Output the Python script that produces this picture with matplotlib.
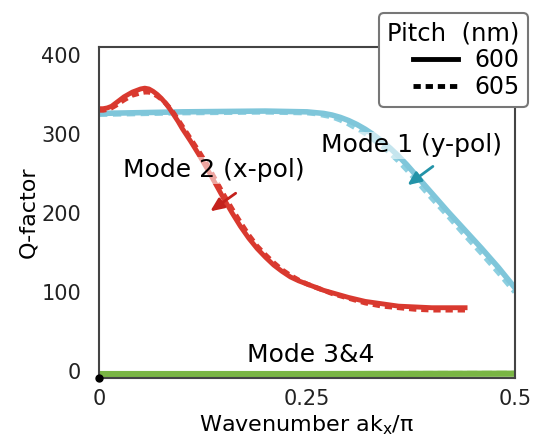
import matplotlib.pyplot as plt
from matplotlib.lines import Line2D

# Mode 1 (y-pol), azul
x_m1 = [0, 0.1, 0.2, 0.25, 0.26, 0.27, 0.28, 0.29, 0.30, 0.31, 0.32, 0.33, 0.34, 0.35,
        0.36, 0.37, 0.38, 0.39, 0.40, 0.42, 0.44, 0.46, 0.48, 0.50]
q_m1_600 = [326, 328, 329, 328, 327, 326, 324, 321, 317, 312, 306, 299, 291, 282,
            272, 261, 249, 237, 225, 201, 178, 155, 131, 105]
q_m1_605 = [325, 327, 328, 327, 326, 324, 322, 318, 313, 307, 301, 293, 285, 276,
            266, 255, 243, 231, 219, 196, 172, 149, 125, 100]

# Mode 2 (x-pol), rojo
x_m2 = [0, 0.005, 0.01, 0.015, 0.02, 0.03, 0.04, 0.05, 0.055, 0.06, 0.065, 0.07, 0.075,
        0.08, 0.085, 0.09, 0.095, 0.10, 0.11, 0.12, 0.13, 0.14, 0.15, 0.16, 0.17, 0.18,
        0.19, 0.20, 0.21, 0.22, 0.23, 0.24, 0.25, 0.26, 0.27, 0.28, 0.29, 0.30, 0.32,
        0.34, 0.36, 0.38, 0.40, 0.42, 0.44]
q_m2_600 = [332, 332, 333, 335, 339, 347, 353, 357, 358, 357, 354, 350, 345,
            339, 332, 324, 316, 307, 291, 274, 256, 237, 218, 200, 183, 168,
            155, 144, 134, 126, 119, 114, 110, 106, 102, 99, 96, 93, 88,
            85, 82, 81, 80, 80, 80]
q_m2_605 = [330, 330, 331, 333, 336, 343, 349, 352, 353, 353, 351, 348, 344,
            339, 333, 326, 318, 310, 294, 278, 261, 242, 223, 205, 188, 172,
            158, 147, 137, 128, 121, 115, 110, 106, 102, 98, 95, 92, 86,
            82, 80, 78, 77, 77, 77]

# Mode 3&4, verde
x_m34 = [0, 0.25, 0.5]
q_m34_600 = [-4, -4, -3.5]
q_m34_605 = [-2, -2, -1.5]

yticks = [0, 100, 200, 300, 400]
xticks = [0, 0.25, 0.5]
xtick_labels = ["0", "0.25", "0.5"]

red = "#d9392f"
blue = "#7fc6da"
green = "#79b543"
dash = (0, (1.5, 1))

fig = plt.figure(figsize=(5.34, 4.43), dpi=100)
ax = fig.add_axes([0.1854, 0.1467, 0.779, 0.747])

ax.plot(x_m34, q_m34_605, color="#b5d99a", lw=2, ls="--")
ax.plot(x_m34, q_m34_600, color=green, lw=4.5)

ax.plot(x_m1, q_m1_605, color="#8ccfe0", lw=4, ls=dash)
ax.plot(x_m1, q_m1_600, color=blue, lw=4)

ax.plot(x_m2, q_m2_605, color=red, lw=3.5, ls=dash)
ax.plot(x_m2, q_m2_600, color=red, lw=3.5)

ax.set_xlim(0, 0.5)
ax.set_ylim(-9, 410)
ax.set_xticks(xticks)
ax.set_xticklabels(xtick_labels)
ax.set_yticks(yticks)
ax.tick_params(axis="both", length=0, labelsize=15, colors="#222222")
ax.tick_params(axis="x", pad=8)
ax.tick_params(axis="y", pad=13)
for s in ax.spines.values():
    s.set_color("#444444")
    s.set_linewidth(1.5)

ax.set_xlabel("Wavenumber ak$_\\mathregular{x}$/π", fontsize=16, labelpad=3)
ax.set_ylabel("Q-factor", fontsize=16, labelpad=2)

# punto en el origen
ax.plot([0], [-9], "o", color="black", ms=5, clip_on=False, zorder=10)

bb = dict(facecolor="white", alpha=0.55, edgecolor="none", pad=1)
ax.text(0.376, 286, "Mode 1 (y-pol)", fontsize=18, ha="center", va="center", bbox=bb)
ax.text(0.138, 254, "Mode 2 (x-pol)", fontsize=18, ha="center", va="center", bbox=bb)
ax.text(0.254, 20, "Mode 3&4", fontsize=18, ha="center", va="center")

ax.annotate("", xy=(0.368, 233), xytext=(0.404, 261),
            arrowprops=dict(arrowstyle="-|>,head_length=0.8,head_width=0.35",
                            color="#2393a8", lw=2))
ax.annotate("", xy=(0.131, 200), xytext=(0.167, 227),
            arrowprops=dict(arrowstyle="-|>,head_length=0.8,head_width=0.35",
                            color="#c4211c", lw=2))

handles = [
    Line2D([], [], color="black", lw=3.5, label="600"),
    Line2D([], [], color="black", lw=3.5, ls=dash, label="605"),
]
leg = fig.legend(handles=handles, title="Pitch  (nm)", loc="upper right",
                 bbox_to_anchor=(0.989, 0.971), borderaxespad=0,
                 fontsize=17, title_fontsize=17.5, fancybox=True,
                 framealpha=1, edgecolor="#777777", handlelength=1.9,
                 labelspacing=0.12, borderpad=0.35, handletextpad=0.7)
leg.get_frame().set_linewidth(1.5)
leg._legend_box.align = "right"

fig.savefig("out.png", dpi=100)
